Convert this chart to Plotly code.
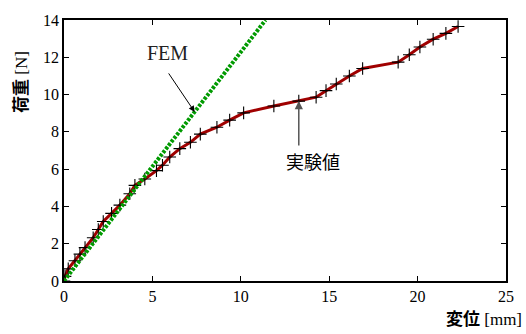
import plotly.graph_objects as go

# Experimental data (displacement [mm], load [N])
exp_x = [0, 0.06, 0.24, 0.62, 0.9, 1.19, 1.65, 1.94, 2.22, 2.69, 3.16, 3.72, 4.01, 4.57,
         5.23, 5.57, 5.98, 6.55, 7.15, 7.71, 8.65, 9.37, 10.16, 11.87, 13.28, 14.26,
         14.82, 15.4, 16.14, 16.89, 18.9, 19.53, 20.13, 20.88, 21.6, 22.29]
exp_y = [0, 0.25, 0.65, 1.09, 1.44, 1.79, 2.32, 2.76, 3.19, 3.63, 4.07, 4.68, 5.13, 5.47,
         5.92, 6.21, 6.65, 7.1, 7.44, 7.88, 8.25, 8.63, 9.02, 9.39, 9.65, 9.86,
         10.21, 10.57, 11.0, 11.4, 11.74, 12.14, 12.55, 12.97, 13.28, 13.65]

# FEM result
fem_x = [0, 11.4]
fem_y = [0, 14.0]

x_ticks = [0, 5, 10, 15, 20, 25]
y_ticks = [0, 2, 4, 6, 8, 10, 12, 14]

SERIF_L = "Liberation Serif"
CJK = "Noto Sans CJK JP"

fig = go.Figure()
fig.add_trace(go.Scatter(
    x=exp_x, y=exp_y, mode="lines+markers",
    line=dict(color="#a00000", width=3),
    marker=dict(symbol="cross-thin", size=9, color="black",
                line=dict(color="black", width=1.1)),
    showlegend=False, hoverinfo="skip"))
fig.add_trace(go.Scatter(
    x=fem_x, y=fem_y, mode="lines",
    line=dict(color="#009a00", width=4, dash="3px,1.5px"),
    showlegend=False, hoverinfo="skip"))

axis_common = dict(
    showline=True, linecolor="black", linewidth=1.5, mirror="ticks",
    ticks="inside", ticklen=5, tickwidth=1, tickcolor="black",
    showgrid=False, zeroline=False,
    tickfont=dict(family=SERIF_L, size=16, color="black"),
)

fig.update_layout(
    width=526, height=334,
    margin=dict(l=64, r=19, t=15, b=53),
    paper_bgcolor="white", plot_bgcolor="white",
    font=dict(family=SERIF_L),
    xaxis=dict(range=[0, 25], tickvals=x_ticks, ticktext=[str(v) for v in x_ticks], **axis_common),
    yaxis=dict(range=[0, 14], tickvals=y_ticks, ticktext=[str(v) for v in y_ticks], **axis_common),
    annotations=[
        # axis titles
        dict(xref="paper", yref="paper", x=1.0 + 18 / 443, y=-53 / 266 + 0.005,
             xanchor="right", yanchor="bottom", showarrow=False,
             text='<span style="font-family:\'Noto Sans CJK JP\'"><b>変位</b></span> [mm]',
             font=dict(family=SERIF_L, size=17, color="black")),
        dict(xref="paper", yref="paper", x=-44 / 443, y=(281 - 78) / 266,
             xanchor="center", yanchor="middle", showarrow=False, textangle=-90,
             text='<span style="font-family:\'Noto Sans CJK JP\'"><b>荷重</b></span> [N]',
             font=dict(family=SERIF_L, size=17, color="black")),
        # FEM label + arrow
        dict(x=7.39, y=9.07, xref="x", yref="y", text="", showarrow=True,
             ax=-27, ay=-40, arrowhead=2, arrowsize=1.2, arrowwidth=1, arrowcolor="black"),
        dict(x=(167.7 - 64) / 17.72, y=(280.7 - 48.3) / 19.0, xref="x", yref="y",
             text="FEM", showarrow=False, font=dict(family=SERIF_L, size=20, color="#222")),
        # Experiment label + arrow
        dict(x=13.28, y=9.65, xref="x", yref="y", text="", showarrow=True,
             ax=0, ay=46, arrowhead=2, arrowsize=1.1, arrowwidth=1.5, arrowcolor="#555"),
        dict(x=(313.3 - 64) / 17.72, y=(280.7 - 158.3) / 19.0, xref="x", yref="y",
             text="実験値", showarrow=False, font=dict(family=CJK, size=18, color="black")),
    ],
)

fig.write_html("out.html", config={"displayModeBar": False},
               post_script="document.body.style.margin='0px';")
